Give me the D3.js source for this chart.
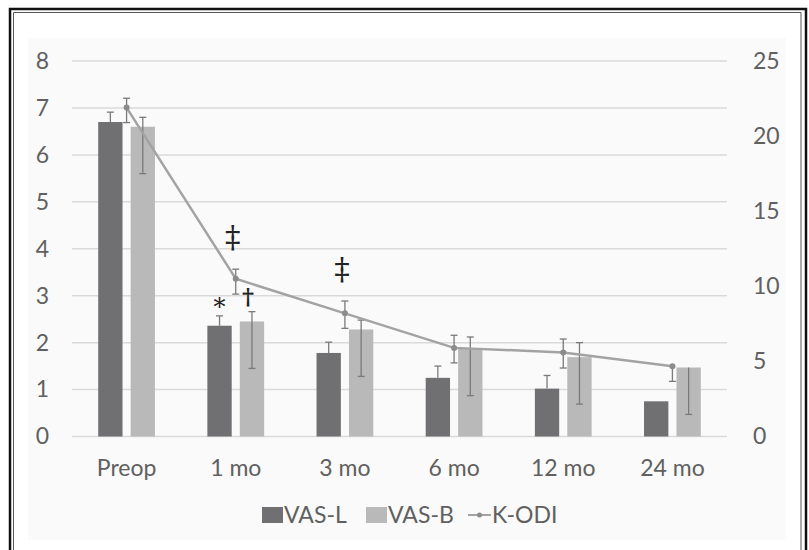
<!DOCTYPE html>
<html>
<head>
<meta charset="utf-8">
<script src="https://cdn.jsdelivr.net/npm/d3@7"></script>
<style>
  body { margin: 0; background: #fff; }
  svg text { font-family: Lato, "Open Sans", sans-serif; fill: #606060; }
</style>
</head>
<body>
<div id="chart"></div>
<script>
// Data
const categories = ['Preop', '1 mo', '3 mo', '6 mo', '12 mo', '24 mo'];
const vasL = [6.7, 2.36, 1.78, 1.25, 1.02, 0.75];
const vasLPlus = [0.21, 0.21, 0.23, 0.25, 0.28, 0];
const vasB = [6.6, 2.45, 2.28, 1.87, 1.69, 1.47];
const vasBPlus = [0.2, 0.21, 0.2, 0.25, 0.31, 0];
const vasBMinus = [1.0, 1.0, 1.0, 1.0, 1.0, 1.0];
const kodi = [21.9, 10.5, 8.2, 5.9, 5.6, 4.67];
const kodiPlus = [0.62, 0.64, 0.82, 0.84, 0.89, 0];
const kodiMinus = [1.0, 1.02, 1.0, 1.0, 1.04, 1.0];
const leftTicks = [0, 1, 2, 3, 4, 5, 6, 7, 8];
const rightTicks = [0, 5, 10, 15, 20, 25];
// significance marks: category, series it sits on, symbol
const marks = [
  { cat: '1 mo', series: 'VAS-L', sym: '*' },
  { cat: '1 mo', series: 'VAS-B', sym: '†' },
  { cat: '1 mo', series: 'K-ODI', sym: '‡' },
  { cat: '3 mo', series: 'K-ODI', sym: '‡' }
];

let width = 809, height = 550;
let margin = { top: 61, bottom: 113, left: 72, right: 82 };

let svg = d3.select('#chart')
  .append('svg')
  .attr('width', width)
  .attr('height', height);

// panel background and frame
svg.append('rect')
  .attr('x', 28).attr('y', 38)
  .attr('width', 758).attr('height', 502)
  .attr('fill', '#fafafa');

svg.append('path')
  .attr('d', `M10,550 V9 H806 V550`)
  .attr('fill', 'none').attr('stroke', '#111').attr('stroke-width', 2.5);
svg.append('path')
  .attr('d', `M13.5,550 V12.5 H801 V550`)
  .attr('fill', 'none').attr('stroke', '#555').attr('stroke-width', 1);

// scales
const x0 = d3.scaleBand()
  .domain(categories)
  .range([margin.left, width - margin.right])
  .paddingInner(0.48)
  .paddingOuter(0.24);

const x1 = d3.scaleBand()
  .domain(['VAS-L', 'VAS-B'])
  .range([0, x0.bandwidth()])
  .paddingInner(0.25);

const yL = d3.scaleLinear()
  .domain([0, 8])
  .range([height - margin.bottom - 0.5, margin.top]);

const yR = d3.scaleLinear()
  .domain([0, 25])
  .range([height - margin.bottom - 0.5, margin.top]);

// gridlines
svg.append('g')
  .selectAll('line')
  .data(leftTicks)
  .enter()
  .append('line')
  .attr('x1', margin.left)
  .attr('x2', width - margin.right)
  .attr('y1', d => yL(d))
  .attr('y2', d => yL(d))
  .attr('stroke', '#dadada')
  .attr('stroke-width', 1.5);

const fs = '23px';

// left axis labels
const axisL = svg.append('g')
  .attr('transform', `translate(49,0)`)
  .call(d3.axisLeft(yL).tickValues(leftTicks).tickSize(0).tickPadding(0));
axisL.select('.domain').remove();
axisL.selectAll('text').style('font-size', fs).attr('fill', '#606060');

// right axis labels
const axisR = svg.append('g')
  .attr('transform', `translate(753,0)`)
  .call(d3.axisRight(yR).tickValues(rightTicks).tickSize(0).tickPadding(0));
axisR.select('.domain').remove();
axisR.selectAll('text').style('font-size', fs).attr('fill', '#606060');

// category labels
const axisX = svg.append('g')
  .attr('transform', `translate(0,${height - margin.bottom})`)
  .call(d3.axisBottom(x0).tickSize(0).tickPadding(23));
axisX.select('.domain').remove();
axisX.selectAll('text').style('font-size', fs).attr('fill', '#606060');

const cx = c => x0(c) + x0.bandwidth() / 2;

// bars
const barColor = { 'VAS-L': '#707073', 'VAS-B': '#b9b9b9' };
const barData = categories.flatMap((c, i) => [
  { cat: c, key: 'VAS-L', v: vasL[i], plus: vasLPlus[i], minus: 0 },
  { cat: c, key: 'VAS-B', v: vasB[i], plus: vasBPlus[i], minus: vasBMinus[i] }
]);

svg.append('g')
  .selectAll('rect')
  .data(barData)
  .enter()
  .append('rect')
  .attr('x', d => x0(d.cat) + x1(d.key))
  .attr('y', d => yL(d.v))
  .attr('width', x1.bandwidth())
  .attr('height', d => yL(0) - yL(d.v))
  .attr('fill', d => barColor[d.key]);

// error bars helper
function errorBar(g, x, yTop, yBot, capTop, capBot) {
  g.append('line')
    .attr('x1', x).attr('x2', x)
    .attr('y1', yTop).attr('y2', yBot)
    .attr('stroke', '#7a7a7a').attr('stroke-width', 1.3);
  if (capTop) g.append('line')
    .attr('x1', x - 3.5).attr('x2', x + 3.5)
    .attr('y1', yTop).attr('y2', yTop)
    .attr('stroke', '#7a7a7a').attr('stroke-width', 1.3);
  if (capBot) g.append('line')
    .attr('x1', x - 3.5).attr('x2', x + 3.5)
    .attr('y1', yBot).attr('y2', yBot)
    .attr('stroke', '#7a7a7a').attr('stroke-width', 1.3);
}

const errG = svg.append('g');
barData.forEach(d => {
  const x = x0(d.cat) + x1(d.key) + x1.bandwidth() / 2;
  if (d.plus > 0 || d.minus > 0) {
    errorBar(errG, x, yL(d.v + d.plus), yL(d.v - d.minus), d.plus > 0, d.minus > 0);
  }
});

// K-ODI line
const line = d3.line()
  .x(d => cx(d.cat))
  .y(d => yR(d.v));

const kodiData = categories.map((c, i) => ({ cat: c, v: kodi[i], plus: kodiPlus[i], minus: kodiMinus[i] }));

svg.append('path')
  .datum(kodiData)
  .attr('d', line)
  .attr('fill', 'none')
  .attr('stroke', '#a3a3a3')
  .attr('stroke-width', 2.5);

const kErr = svg.append('g');
kodiData.forEach(d => {
  errorBar(kErr, cx(d.cat), yR(d.v + d.plus), yR(d.v - d.minus), d.plus > 0, d.minus > 0);
});

svg.append('g')
  .selectAll('circle')
  .data(kodiData)
  .enter()
  .append('circle')
  .attr('cx', d => cx(d.cat))
  .attr('cy', d => yR(d.v))
  .attr('r', 3)
  .attr('fill', '#8c8c8c');

// significance marks
marks.forEach(m => {
  const i = categories.indexOf(m.cat);
  let x, y, size;
  if (m.series === 'K-ODI') {
    x = cx(m.cat) - 3;
    y = yR(kodi[i] + kodiPlus[i]) - 21;
    size = '31px';
  } else if (m.series === 'VAS-L') {
    x = x0(m.cat) + x1('VAS-L') + x1.bandwidth() / 2;
    y = yL(vasL[i] + vasLPlus[i]) - 1;
    size = '24px';
  } else {
    x = x0(m.cat) + x1('VAS-B') + x1.bandwidth() / 2 - 4;
    y = yL(vasB[i] + vasBPlus[i]) - 8;
    size = '23px';
  }
  svg.append('text')
    .attr('x', x)
    .attr('y', y)
    .attr('text-anchor', 'middle')
    .style('font-family', '"DejaVu Serif", serif')
    .style('font-size', size)
    .style('font-weight', m.sym === '†' ? 'bold' : 'normal')
    .style('fill', '#222')
    .text(m.sym);
});

// legend
const legend = svg.append('g').attr('transform', 'translate(262,515)');
legend.append('rect').attr('x', 0).attr('y', -8).attr('width', 21).attr('height', 16).attr('fill', barColor['VAS-L']);
legend.append('text').attr('x', 22).attr('y', 0).attr('dy', '0.35em').style('font-size', fs).text('VAS-L');
legend.append('rect').attr('x', 104).attr('y', -8).attr('width', 21).attr('height', 16).attr('fill', barColor['VAS-B']);
legend.append('text').attr('x', 126).attr('y', 0).attr('dy', '0.35em').style('font-size', fs).text('VAS-B');
legend.append('line').attr('x1', 206).attr('x2', 229).attr('y1', 0).attr('y2', 0).attr('stroke', '#a3a3a3').attr('stroke-width', 2);
legend.append('circle').attr('cx', 217.5).attr('cy', 0).attr('r', 2.5).attr('fill', '#8c8c8c');
legend.append('text').attr('x', 230).attr('y', 0).attr('dy', '0.35em').style('font-size', fs).text('K-ODI');
</script>
</body>
</html>
